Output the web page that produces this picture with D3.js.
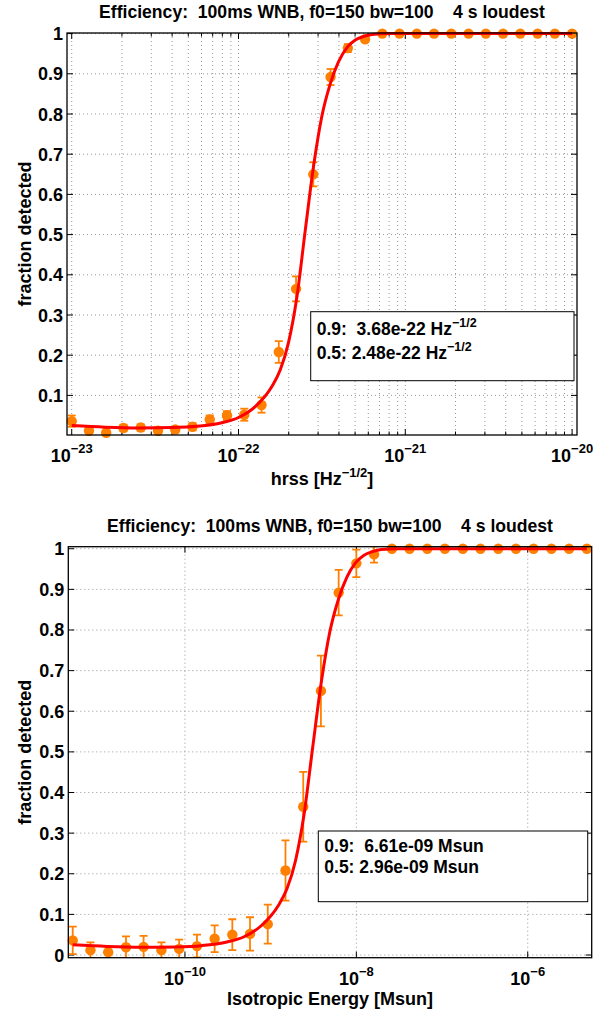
<!DOCTYPE html>
<html>
<head>
<meta charset="utf-8">
<script src="https://cdn.jsdelivr.net/npm/d3@7"></script>
<style>
  body { margin: 0; background: #fff; }
  text { font-family: "Liberation Sans", Arial, Helvetica, sans-serif; font-weight: bold; fill: #000; }
</style>
</head>
<body>
<svg id="chart" width="593" height="1016"></svg>
<script>
// injection amplitudes (hrss) and isotropic energy of the same 30 injections
const hrssValues = [1.000e-23, 1.269e-23, 1.610e-23, 2.043e-23, 2.593e-23, 3.291e-23, 4.176e-23, 5.298e-23, 6.723e-23, 8.532e-23,
    1.083e-22, 1.374e-22, 1.744e-22, 2.213e-22, 2.808e-22, 3.563e-22, 4.522e-22, 5.738e-22, 7.281e-22, 9.238e-22,
    1.172e-21, 1.487e-21, 1.887e-21, 2.395e-21, 3.039e-21, 3.856e-21, 4.893e-21, 6.209e-21, 7.879e-21, 1.000e-20];
const energyValues = [4.90e-12, 7.89e-12, 1.27e-11, 2.05e-11, 3.29e-11, 5.31e-11, 8.55e-11, 1.38e-10, 2.22e-10, 3.57e-10,
    5.74e-10, 9.25e-10, 1.49e-9, 2.40e-9, 3.86e-9, 6.22e-9, 1.00e-8, 1.61e-8, 2.60e-8, 4.18e-8,
    6.73e-8, 1.08e-7, 1.75e-7, 2.81e-7, 4.53e-7, 7.29e-7, 1.17e-6, 1.89e-6, 3.04e-6, 4.90e-6];
const fracDetected = [0.036, 0.012, 0.007, 0.019, 0.020, 0.012, 0.015, 0.022, 0.040, 0.050,
    0.052, 0.076, 0.208, 0.365, 0.650, 0.892, 0.964, 0.986, 1, 1,
    1, 1, 1, 1, 1, 1, 1, 1, 1, 1];
const errHrss = [0.014, 0.006, 0.005, 0.008, 0.008, 0.006, 0.007, 0.009, 0.010, 0.011,
    0.015, 0.019, 0.027, 0.031, 0.030, 0.020, 0.010, 0.006, 0, 0,
    0, 0, 0, 0, 0, 0, 0, 0, 0, 0];
const errEnergy = [0.034, 0.019, 0.014, 0.027, 0.027, 0.019, 0.023, 0.028, 0.033, 0.038,
    0.041, 0.048, 0.074, 0.086, 0.087, 0.056, 0.034, 0.020, 0, 0,
    0, 0, 0, 0, 0, 0, 0, 0, 0, 0];

// fitted efficiency curves
const fitHrss = [1.000e-23, 1.585e-23, 2.512e-23, 3.981e-23, 5.623e-23, 7.943e-23, 1.000e-22, 1.259e-22, 1.585e-22, 1.778e-22,
    1.995e-22, 2.239e-22, 2.512e-22, 2.818e-22, 3.162e-22, 3.548e-22, 3.981e-22, 4.467e-22, 5.012e-22, 5.623e-22,
    6.310e-22, 7.943e-22, 1.000e-20];
const fitEnergy = [4.90e-12, 1.23e-11, 3.09e-11, 7.76e-11, 1.55e-10, 3.09e-10, 4.90e-10, 7.76e-10, 1.23e-9, 1.55e-9,
    1.95e-9, 2.45e-9, 3.09e-9, 3.89e-9, 4.90e-9, 6.17e-9, 7.76e-9, 9.77e-9, 1.23e-8, 1.55e-8,
    1.95e-8, 3.09e-8, 4.90e-6];
const fitFrac = [0.025, 0.021, 0.019, 0.020, 0.023, 0.032, 0.045, 0.072, 0.122, 0.163,
    0.232, 0.345, 0.510, 0.670, 0.795, 0.875, 0.930, 0.965, 0.984, 0.993,
    0.998, 1.0, 1.0];

const titleText = "Efficiency:  100ms WNB, f0=150 bw=100    4 s loudest";
const yTicksTop = [0.1, 0.2, 0.3, 0.4, 0.5, 0.6, 0.7, 0.8, 0.9, 1];
const yTicksBottom = [0, 0.1, 0.2, 0.3, 0.4, 0.5, 0.6, 0.7, 0.8, 0.9, 1];
const xMajorTop = [1e-23, 1e-22, 1e-21, 1e-20];
const xMajorBottom = [1e-10, 1e-8, 1e-6];
const legendTop = [["0.9:  3.68e-22 Hz", "\u22121/2"], ["0.5: 2.48e-22 Hz", "\u22121/2"]];
const legendBottom = [["0.9:  6.61e-09 Msun", ""], ["0.5: 2.96e-09 Msun", ""]];

const orange = "#ff8000";
const svg = d3.select("#chart");

function drawPanel(cfg) {
    const x = d3.scaleLog().domain(cfg.xDomain).range([cfg.left, cfg.right]);
    const y = d3.scaleLinear().domain(cfg.yDomain).range([cfg.bottom, cfg.top]);
    const g = svg.append("g");
    const clipId = "clip_" + cfg.id;
    g.append("clipPath").attr("id", clipId)
        .append("rect")
        .attr("x", cfg.left).attr("y", cfg.top)
        .attr("width", cfg.right - cfg.left).attr("height", cfg.bottom - cfg.top);

    // minor log ticks (2..9 in each decade) if wanted
    let xMinor = [];
    if (cfg.minor) {
        xMinor = x.ticks().filter(t => {
            const m = t / Math.pow(10, Math.floor(Math.log10(t) + 1e-9));
            return Math.round(m) !== 1;
        });
    }

    // grid
    const grid = g.append("g")
        .attr("stroke", "#8a8a8a")
        .attr("stroke-width", 0.9)
        .attr("stroke-dasharray", "1,3");
    grid.selectAll(".vx")
        .data(cfg.xMajor.concat(xMinor))
        .join("line")
        .attr("x1", d => x(d)).attr("x2", d => x(d))
        .attr("y1", cfg.top).attr("y2", cfg.bottom);
    grid.selectAll(".hy")
        .data(cfg.yTicks)
        .join("line")
        .attr("x1", cfg.left).attr("x2", cfg.right)
        .attr("y1", d => y(d)).attr("y2", d => y(d));

    // tick marks on all four sides, pointing inward
    const ticks = g.append("g").attr("stroke", "#000").attr("stroke-width", 1);
    const xTickList = cfg.xMajor.map(d => [d, 6]).concat(xMinor.map(d => [d, 3.5]));
    ticks.selectAll(".xb")
        .data(xTickList)
        .join("line")
        .attr("x1", d => x(d[0])).attr("x2", d => x(d[0]))
        .attr("y1", cfg.bottom).attr("y2", d => cfg.bottom - d[1]);
    ticks.selectAll(".xt")
        .data(xTickList)
        .join("line")
        .attr("x1", d => x(d[0])).attr("x2", d => x(d[0]))
        .attr("y1", cfg.top).attr("y2", d => cfg.top + d[1]);
    ticks.selectAll(".yl")
        .data(cfg.yTicks)
        .join("line")
        .attr("x1", cfg.left).attr("x2", cfg.left + 6)
        .attr("y1", d => y(d)).attr("y2", d => y(d));
    ticks.selectAll(".yr")
        .data(cfg.yTicks)
        .join("line")
        .attr("x1", cfg.right).attr("x2", cfg.right - 6)
        .attr("y1", d => y(d)).attr("y2", d => y(d));

    // error bars
    const pts = cfg.xs.map((v, i) => ({x: v, y: fracDetected[i], e: cfg.err[i]}));
    const bars = g.append("g")
        .attr("clip-path", `url(#${clipId})`)
        .attr("stroke", orange)
        .attr("stroke-width", 1.8);
    const withErr = pts.filter(d => d.e > 0);
    bars.selectAll(".ev")
        .data(withErr)
        .join("line")
        .attr("x1", d => x(d.x)).attr("x2", d => x(d.x))
        .attr("y1", d => y(d.y - d.e)).attr("y2", d => y(d.y + d.e));
    bars.selectAll(".ct")
        .data(withErr)
        .join("line")
        .attr("x1", d => x(d.x) - 4).attr("x2", d => x(d.x) + 4)
        .attr("y1", d => y(d.y + d.e)).attr("y2", d => y(d.y + d.e));
    bars.selectAll(".cb")
        .data(withErr)
        .join("line")
        .attr("x1", d => x(d.x) - 4).attr("x2", d => x(d.x) + 4)
        .attr("y1", d => y(d.y - d.e)).attr("y2", d => y(d.y - d.e));

    // points
    g.append("g")
        .attr("fill", orange)
        .selectAll("circle")
        .data(pts)
        .join("circle")
        .attr("cx", d => x(d.x))
        .attr("cy", d => y(d.y))
        .attr("r", 5.2);

    // fitted curve
    const line = d3.line()
        .x(d => x(d[0]))
        .y(d => y(d[1]))
        .curve(d3.curveMonotoneX);
    g.append("path")
        .datum(cfg.fitX.map((v, i) => [v, fitFrac[i]]))
        .attr("fill", "none")
        .attr("stroke", "#ff0000")
        .attr("stroke-width", 3)
        .attr("stroke-linejoin", "round")
        .attr("d", line);

    // axes box
    g.append("rect")
        .attr("x", cfg.left).attr("y", cfg.top)
        .attr("width", cfg.right - cfg.left).attr("height", cfg.bottom - cfg.top)
        .attr("fill", "none")
        .attr("stroke", "#000")
        .attr("stroke-width", 1.3);

    // y tick labels
    g.append("g")
        .selectAll("text")
        .data(cfg.yTicks)
        .join("text")
        .attr("x", cfg.left - 4)
        .attr("y", d => y(d) + 6.5)
        .attr("text-anchor", "end")
        .style("font-size", "18px")
        .text(d => d);

    // x tick labels 10^n
    const xl = g.append("g")
        .selectAll("text")
        .data(cfg.xMajor)
        .join("text")
        .attr("x", d => x(d))
        .attr("y", cfg.bottom + 27)
        .attr("text-anchor", "middle")
        .style("font-size", "18px");
    xl.append("tspan").text("10");
    xl.append("tspan")
        .attr("dy", -9)
        .style("font-size", "13px")
        .text(d => "\u2212" + Math.abs(Math.round(Math.log10(d))));

    // title
    g.append("text")
        .attr("x", (cfg.left + cfg.right) / 2)
        .attr("y", cfg.top - 15)
        .attr("text-anchor", "middle")
        .style("font-size", "17.6px")
        .style("white-space", "pre")
        .text(titleText);

    // axis labels
    const xlab = g.append("text")
        .attr("x", (cfg.left + cfg.right) / 2)
        .attr("y", cfg.bottom + cfg.xLabelDy)
        .attr("text-anchor", "middle")
        .style("font-size", "18px");
    xlab.append("tspan").text(cfg.xLabel[0]);
    if (cfg.xLabel[1]) {
        xlab.append("tspan").attr("dy", -8).style("font-size", "13px").text(cfg.xLabel[1]);
        xlab.append("tspan").attr("dy", 8).text(cfg.xLabel[2]);
    }
    g.append("text")
        .attr("transform", `translate(31,${(cfg.top + cfg.bottom) / 2}) rotate(-90)`)
        .attr("text-anchor", "middle")
        .style("font-size", "18px")
        .text("fraction detected");

    // legend box
    const lb = cfg.legendBox;
    g.append("rect")
        .attr("x", lb[0]).attr("y", lb[1])
        .attr("width", lb[2]).attr("height", lb[3])
        .attr("fill", "#fff")
        .attr("stroke", "#000")
        .attr("stroke-width", 1);
    const lt = g.append("g")
        .selectAll("text")
        .data(cfg.legend)
        .join("text")
        .attr("x", lb[0] + 6)
        .attr("y", (d, i) => lb[1] + cfg.legendRows[0] + i * cfg.legendRows[1])
        .style("font-size", "17.5px")
        .style("white-space", "pre");
    lt.append("tspan").text(d => d[0]);
    lt.append("tspan").attr("dy", -8).style("font-size", "12.5px").text(d => d[1]);
}

drawPanel({
    id: "hrss",
    left: 67, right: 577, top: 33, bottom: 435,
    xDomain: [9.37e-24, 1.07e-20],
    yDomain: [0.0015, 1.0015],
    xMajor: xMajorTop,
    yTicks: yTicksTop,
    minor: true,
    xs: hrssValues,
    err: errHrss,
    fitX: fitHrss,
    xLabel: ["hrss [Hz", "\u22121/2", "]"],
    xLabelDy: 50,
    legend: legendTop,
    legendBox: [310.7, 311.7, 263.3, 69],
    legendRows: [23.5, 24]
});

drawPanel({
    id: "energy",
    left: 68.3, right: 591.7, top: 546.7, bottom: 957.7,
    xDomain: [4.35e-12, 5.58e-6],
    yDomain: [-0.0066, 1.005],
    xMajor: xMajorBottom,
    yTicks: yTicksBottom,
    minor: false,
    xs: energyValues,
    err: errEnergy,
    fitX: fitEnergy,
    xLabel: ["Isotropic Energy [Msun]"],
    xLabelDy: 47.5,
    legend: legendBottom,
    legendBox: [318.3, 831, 269.4, 70.7],
    legendRows: [20.7, 21]
});
</script>
</body>
</html>
